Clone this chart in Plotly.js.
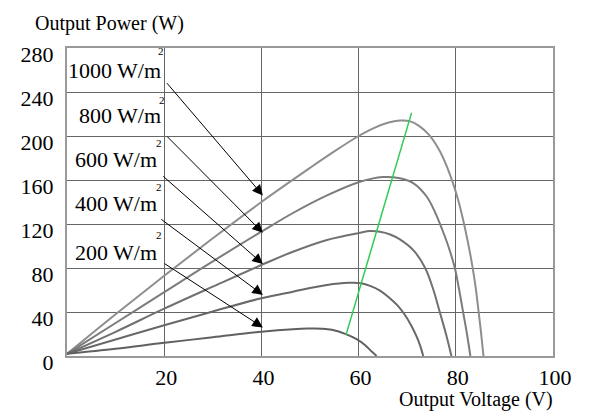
<!DOCTYPE html>
<html>
<head>
<meta charset="utf-8">
<script src="https://cdn.plot.ly/plotly-3.0.1.min.js"></script>
<style>
html,body{margin:0;padding:0;background:#fff;}
#chart{width:592px;height:415px;}
</style>
</head>
<body>
<div id="chart"></div>
<script>
// ---- data ----
const irradianceLabels = ["1000 W/m", "800 W/m", "600 W/m", "400 W/m", "200 W/m"];

const v1000 = [0, 10, 20, 30, 40, 50, 55, 60, 63, 66, 68.5, 70.5, 72.5, 74.5, 76.5, 78, 79.5, 80.6, 81.7, 82.6, 83.4, 84.1, 84.7, 85.2, 85.7];
const p1000 = [2, 38, 73, 107, 140, 171, 186, 200, 207, 212, 214, 213.5, 209, 201, 188, 174, 156, 140, 120, 101, 82, 62, 40, 21, 0];

const v800 = [0, 10, 20, 30, 40, 46.5, 53.5, 60, 65, 68.5, 71.3, 74, 75.7, 77.2, 78.6, 79.8, 80.7, 81.5, 82.3, 83];
const p800 = [2, 30, 58, 86, 113, 130, 146, 158, 162.7, 161.5, 157, 145, 131, 115, 98, 80, 60, 40, 20, 0];

const v600 = [0, 10, 20, 30, 40, 46.5, 53.5, 60.3, 62.3, 64.4, 66.5, 68.5, 71.3, 73.7, 75.4, 76.7, 78.1, 79.1];
const p600 = [2, 22, 43, 63, 82.7, 94.8, 105.5, 112, 113.6, 113, 110.5, 106, 96, 80, 60, 40, 18, 0];

const v400 = [0, 10, 20, 30, 40, 46.5, 53.5, 58, 60.5, 62.5, 64.4, 66.2, 68, 69.5, 70.8, 71.9, 72.7, 73.3];
const p400 = [2, 15, 28, 40.5, 52.5, 58.5, 64.5, 66.5, 66.2, 63.5, 59.5, 53.5, 46, 37.5, 28, 18, 9, 0];

const v200 = [0, 10, 20, 30, 40, 46.5, 49.5, 52.5, 54.5, 57.5, 59.5, 61.3, 62.7, 63.7];
const p200 = [2, 6.5, 12, 17, 22, 24.3, 24.9, 24.8, 23.8, 19.7, 15.5, 10, 4, 0];

const mppVoltage = [57.4, 70.9];
const mppPower = [19, 221];

const xTicks = [20, 40, 60, 80, 100];
const yTicks = [0, 40, 80, 120, 160, 200, 240, 280];

// ---- traces ----
const curveColors = ["#8e8e8e", "#7c7c7c", "#717171", "#686868", "#606060"];
const vs = [v1000, v800, v600, v400, v200];
const ps = [p1000, p800, p600, p400, p200];
const traces = vs.map((v, i) => ({
  x: v, y: ps[i], type: "scatter", mode: "lines",
  line: {color: curveColors[i], width: 2, shape: "spline", smoothing: 1},
  hoverinfo: "skip", showlegend: false
}));
traces.push({
  x: mppVoltage, y: mppPower, type: "scatter", mode: "lines",
  line: {color: "#2ecc55", width: 1.5}, hoverinfo: "skip", showlegend: false
});

// ---- annotations ----
const F = "Liberation Serif";
const labelPos = [[19.55, 260], [19.55, 219], [18.7, 178.2], [18.7, 139], [18.7, 94.5]];
const supPos = [[19.4, 277], [19.6, 233], [19.0, 194], [18.9, 153.2], [18.9, 110.4]];
const arrowTail = [[20.3, 249.4], [20.3, 200.9], [19.5, 164.5], [19.1, 125.2], [19.8, 84.8]];
const arrowHead = [[40.3, 146], [40.3, 112], [40.3, 83.6], [40.3, 55.5], [40.3, 26]];

const annotations = [];
irradianceLabels.forEach((t, i) => {
  annotations.push({
    x: labelPos[i][0], y: labelPos[i][1], xref: "x", yref: "y",
    text: t, showarrow: false, xanchor: "right", yanchor: "middle", borderpad: 0,
    font: {family: F, size: 22, color: "#000"}
  });
  annotations.push({
    x: supPos[i][0], y: supPos[i][1], xref: "x", yref: "y",
    text: "2", showarrow: false, xanchor: "center", yanchor: "middle", borderpad: 0,
    font: {family: F, size: 11, color: "#000"}
  });
  annotations.push({
    x: arrowHead[i][0], y: arrowHead[i][1], xref: "x", yref: "y",
    ax: arrowTail[i][0], ay: arrowTail[i][1], axref: "x", ayref: "y",
    text: "", showarrow: true, arrowhead: 2, arrowsize: 2.1, arrowwidth: 1,
    arrowcolor: "#000", standoff: 0, startstandoff: 0
  });
});
annotations.push({
  x: -0.07, y: 1.081, xref: "paper", yref: "paper", xanchor: "left", yanchor: "middle",
  text: "Output Power (W)", showarrow: false, font: {family: F, size: 20, color: "#000"}
});
annotations.push({
  x: 0.678, y: -0.142, xref: "paper", yref: "paper", xanchor: "left", yanchor: "middle",
  text: "Output Voltage (V)", showarrow: false, font: {family: F, size: 20, color: "#000"}
});

const layout = {
  width: 592, height: 415,
  margin: {l: 67, r: 39, t: 48, b: 59, pad: 0},
  paper_bgcolor: "#fff", plot_bgcolor: "#fff",
  showlegend: false,
  font: {family: F, size: 22, color: "#000"},
  xaxis: {
    range: [0, 100], tickvals: xTicks, ticktext: xTicks.map(String),
    showgrid: true, gridcolor: "#666", gridwidth: 1,
    showline: true, linecolor: "#999", linewidth: 2, mirror: true,
    zeroline: false, ticks: "outside", ticklen: 1, tickcolor: "rgba(0,0,0,0)",
    ticklabelshift: 2,
    tickfont: {family: F, size: 22, color: "#000"}
  },
  yaxis: {
    range: [0, 280], tickvals: yTicks, ticktext: yTicks.map(String),
    showgrid: true, gridcolor: "#666", gridwidth: 1,
    showline: true, linecolor: "#999", linewidth: 2, mirror: true,
    zeroline: false, ticks: "outside", ticklen: 7, tickcolor: "rgba(0,0,0,0)",
    ticklabelshift: 6,
    tickfont: {family: F, size: 22, color: "#000"}
  },
  annotations: annotations
};

Plotly.newPlot("chart", traces, layout, {displayModeBar: false, staticPlot: true});
</script>
</body>
</html>
